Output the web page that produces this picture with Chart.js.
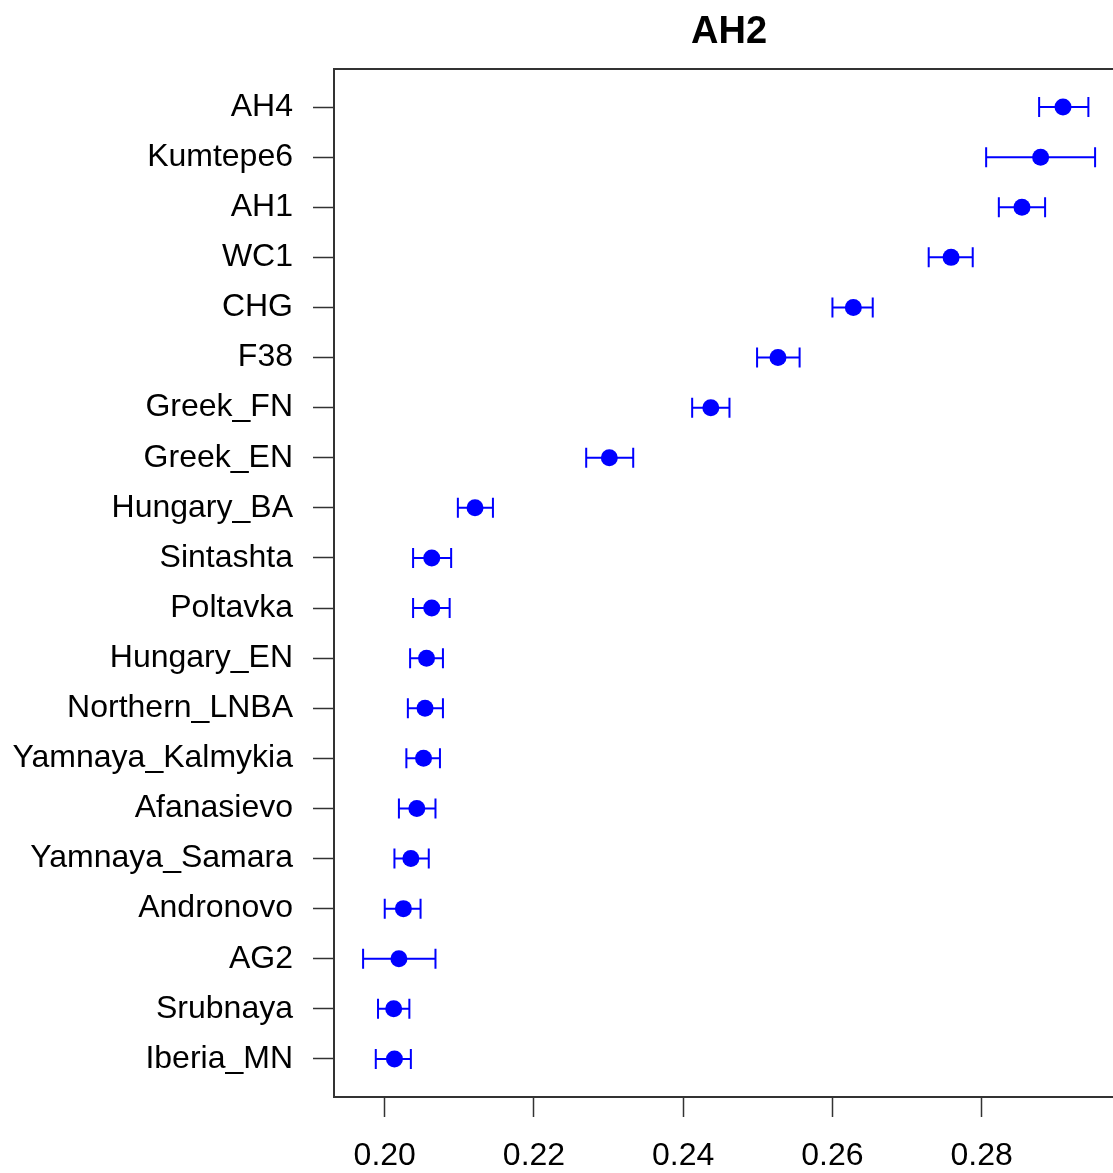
<!DOCTYPE html>
<html>
<head>
<meta charset="utf-8">
<script src="https://cdn.jsdelivr.net/npm/chart.js@4/dist/chart.umd.min.js"></script>
<style>
  html, body { margin: 0; padding: 0; background: #fff; overflow: hidden; }
  canvas { display: block; }
</style>
</head>
<body>
<canvas id="c" width="1113" height="1173"></canvas>
<script>
// Populations, top to bottom
const groups = ['AH4', 'Kumtepe6', 'AH1', 'WC1', 'CHG', 'F38', 'Greek_FN', 'Greek_EN',
  'Hungary_BA', 'Sintashta', 'Poltavka', 'Hungary_EN', 'Northern_LNBA', 'Yamnaya_Kalmykia',
  'Afanasievo', 'Yamnaya_Samara', 'Andronovo', 'AG2', 'Srubnaya', 'Iberia_MN'];

// Estimates and interval bounds
const estimate = [0.2909, 0.2879, 0.2854, 0.2759, 0.2628, 0.2527, 0.2437, 0.2301,
  0.2121, 0.2063, 0.2063, 0.2056, 0.2054, 0.2052, 0.2043, 0.2035, 0.2025, 0.2019, 0.2012, 0.2013];
const lower = [0.2877, 0.2806, 0.2823, 0.2729, 0.2600, 0.2499, 0.2412, 0.2270,
  0.2098, 0.2038, 0.2038, 0.2034, 0.2031, 0.2029, 0.2019, 0.2013, 0.2000, 0.1971, 0.1991, 0.1988];
const upper = [0.2943, 0.2952, 0.2885, 0.2788, 0.2654, 0.2556, 0.2462, 0.2333,
  0.2145, 0.2089, 0.2087, 0.2078, 0.2078, 0.2074, 0.2068, 0.2059, 0.2048, 0.2068, 0.2033, 0.2035];

// Axis ticks
const xTicks = [0.20, 0.22, 0.24, 0.26, 0.28];
const xTickLabels = ['0.20', '0.22', '0.24', '0.26', '0.28'];

const titleText = 'AH2';
const plotRange = [0.1932, 0.2991];   // full extent of the plot box
const visibleMax = 0.2976;            // right edge of the canvas
const yRange = [0.24, 20.76];

const FONT = '"Liberation Sans", Arial, Helvetica, sans-serif';
const BLUE = '#0000FF';

const points = estimate.map((v, i) => ({ x: v, y: i + 1 }));

const errorBars = {
  id: 'errorBars',
  beforeDatasetsDraw(chart) {
    const { ctx, scales: { x, y } } = chart;
    ctx.save();
    ctx.strokeStyle = BLUE;
    ctx.lineWidth = 2;
    const cap = 10;
    for (let i = 0; i < estimate.length; i++) {
      const py = y.getPixelForValue(i + 1);
      const x0 = x.getPixelForValue(lower[i]);
      const x1 = x.getPixelForValue(upper[i]);
      ctx.beginPath();
      ctx.moveTo(x0, py); ctx.lineTo(x1, py);
      ctx.moveTo(x0, py - cap); ctx.lineTo(x0, py + cap);
      ctx.moveTo(x1, py - cap); ctx.lineTo(x1, py + cap);
      ctx.stroke();
    }
    ctx.restore();
  }
};

const frameAndTitle = {
  id: 'frameAndTitle',
  afterDraw(chart) {
    const { ctx, chartArea: a, scales: { x } } = chart;
    const right = x.getPixelForValue(plotRange[1]);
    ctx.save();
    ctx.strokeStyle = '#333';
    ctx.lineWidth = 2;
    ctx.strokeRect(a.left, a.top, right - a.left, a.bottom - a.top);
    ctx.fillStyle = '#000';
    ctx.font = 'bold 38px ' + FONT;
    ctx.textAlign = 'center';
    ctx.textBaseline = 'alphabetic';
    ctx.fillText(titleText, (a.left + right) / 2, 43);
    ctx.restore();
  }
};

new Chart(document.getElementById('c'), {
  type: 'scatter',
  data: {
    datasets: [{
      data: points,
      backgroundColor: BLUE,
      borderColor: BLUE,
      borderWidth: 0,
      pointRadius: 8.5,
      pointHoverRadius: 8.5
    }]
  },
  options: {
    responsive: false,
    animation: false,
    devicePixelRatio: 1,
    layout: { autoPadding: false, padding: { top: 69, left: 0, right: 0, bottom: 0 } },
    plugins: {
      legend: { display: false },
      title: { display: false },
      tooltip: { enabled: false }
    },
    scales: {
      x: {
        type: 'linear',
        position: 'bottom',
        min: plotRange[0],
        max: visibleMax,
        afterFit(s) { s.height = 76; },
        afterBuildTicks(s) { s.ticks = xTicks.map(v => ({ value: v })); },
        border: { display: false },
        grid: {
          drawOnChartArea: false,
          drawTicks: true,
          tickLength: 20,
          tickWidth: 1.5,
          tickColor: '#333'
        },
        ticks: {
          padding: 20,
          color: '#000',
          font: { family: FONT, size: 32 },
          maxRotation: 0,
          autoSkip: false,
          callback(v) { return xTickLabels[xTicks.indexOf(v)]; }
        }
      },
      y: {
        type: 'linear',
        position: 'left',
        reverse: true,
        min: yRange[0],
        max: yRange[1],
        afterFit(s) { s.width = 334; },
        afterBuildTicks(s) { s.ticks = groups.map((g, i) => ({ value: i + 1 })); },
        border: { display: false },
        grid: {
          drawOnChartArea: false,
          drawTicks: true,
          tickLength: 21,
          tickWidth: 1.5,
          tickColor: '#333'
        },
        ticks: {
          padding: 20,
          color: '#000',
          font: { family: FONT, size: 32 },
          autoSkip: false,
          callback(v) { return groups[v - 1]; }
        }
      }
    }
  },
  plugins: [errorBars, frameAndTitle]
});
</script>
</body>
</html>
